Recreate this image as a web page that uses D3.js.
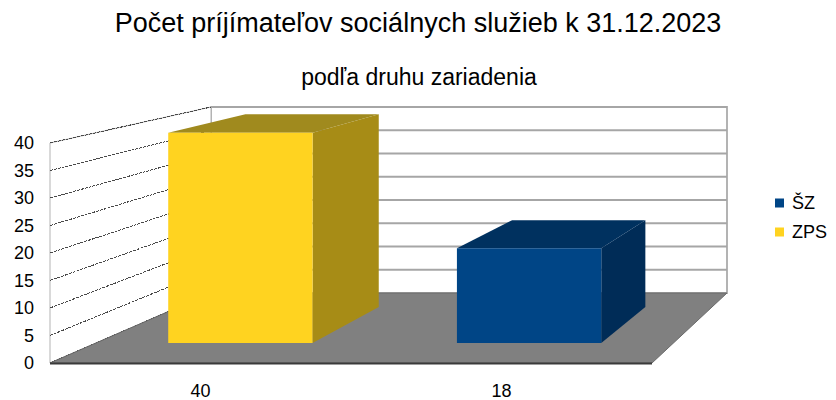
<!DOCTYPE html>
<html>
<head>
<meta charset="utf-8">
<script src="https://cdn.jsdelivr.net/npm/d3@7"></script>
<style>
  html, body { margin: 0; padding: 0; background: #fff; }
  svg { display: block; font-family: "Liberation Sans", Arial, sans-serif; }
</style>
</head>
<body>
<svg id="chart" width="836" height="400"></svg>
<script>
// ---- data ----
const title = "Počet príjímateľov sociálnych služieb k 31.12.2023";
const subtitle = "podľa druhu zariadenia";
const categories = ["40", "18"];
const values = [40, 18];
const pointSeries = ["ZPS", "ŠZ"];
const legendNames = ["ŠZ", "ZPS"];
const yTicks = [0, 5, 10, 15, 20, 25, 30, 35, 40];

// ---- styles ----
const faceColors = {
  "ZPS": { front: "#ffd320", side: "#a78c16", top: "#a08a1e" },
  "ŠZ":  { front: "#004586", side: "#002c57", top: "#00315f" }
};

const svg = d3.select("#chart");

// ---- pseudo-3D projection built from scales ----
const uFront = d3.scaleLinear().domain([0, 1]).range([50, 652]);
const uBack  = d3.scaleLinear().domain([0, 1]).range([211, 727]);
const vFront = d3.scaleLinear().domain([0, 40]).range([363, 143]);
const vBack  = d3.scaleLinear().domain([0, 40]).range([293, 107]);
function project(u, v, z) {
  return [uFront(u) * (1 - z) + uBack(u) * z, vFront(v) * (1 - z) + vBack(v) * z];
}
const band = d3.scaleBand().domain(categories).range([0, 1]).paddingInner(0.5).paddingOuter(0.25);
const zFront = 0.286, zBackBar = 0.8;
const yMax = 40;

const poly = pts => "M" + pts.map(p => p.join(",")).join("L") + "Z";

// back wall
const g = svg.append("g");
g.append("path")
  .attr("d", poly([project(0, 0, 1), project(1, 0, 1), project(1, yMax, 1), project(0, yMax, 1)]))
  .attr("fill", "#fff").attr("stroke", "#b3b3b3").attr("stroke-width", 2);
g.selectAll("line.bgrid").data(yTicks.filter(t => t > 0)).join("line")
  .attr("class", "bgrid")
  .attr("x1", d => project(0, d, 1)[0]).attr("y1", d => project(0, d, 1)[1])
  .attr("x2", d => project(1, d, 1)[0]).attr("y2", d => project(1, d, 1)[1])
  .attr("stroke", "#a6a6a6").attr("stroke-width", 2);

// left wall
g.append("path")
  .attr("d", poly([project(0, 0, 0), project(0, 0, 1), project(0, yMax, 1), project(0, yMax, 0)]))
  .attr("fill", "#fff").attr("stroke", "#b3b3b3").attr("stroke-width", 1);
g.selectAll("line.lgrid").data(yTicks).join("line")
  .attr("class", "lgrid")
  .attr("x1", d => project(0, d, 0)[0]).attr("y1", d => project(0, d, 0)[1])
  .attr("x2", d => project(0, d, 1)[0]).attr("y2", d => project(0, d, 1)[1])
  .attr("stroke", "#4a4a4a").attr("stroke-width", 1).attr("stroke-dasharray", "3,1")
  .attr("shape-rendering", "crispEdges");

// floor
g.append("path")
  .attr("d", poly([project(0, 0, 0), project(1, 0, 0), project(1, 0, 1), project(0, 0, 1)]))
  .attr("fill", "#808080").attr("stroke", "#6a6a6a").attr("stroke-width", 1);
g.append("line")
  .attr("x1", project(0, 0, 0)[0]).attr("y1", project(0, 0, 0)[1] + 0.5)
  .attr("x2", project(1, 0, 0)[0]).attr("y2", project(1, 0, 0)[1] + 0.5)
  .attr("stroke", "#3a3a3a").attr("stroke-width", 2);

// bars
const bars = categories.map((c, i) => ({ c, v: values[i], s: pointSeries[i] }));
const bg = svg.append("g");
bars.forEach(b => {
  const u0 = band(b.c), u1 = band(b.c) + band.bandwidth();
  const col = faceColors[b.s];
  bg.append("path")
    .attr("d", poly([project(u1, 0, zFront), project(u1, 0, zBackBar), project(u1, b.v, zBackBar), project(u1, b.v, zFront)]))
    .attr("fill", col.side);
  bg.append("path")
    .attr("d", poly([project(u0, b.v, zFront), project(u1, b.v, zFront), project(u1, b.v, zBackBar), project(u0, b.v, zBackBar)]))
    .attr("fill", col.top);
  bg.append("path")
    .attr("d", poly([project(u0, 0, zFront), project(u1, 0, zFront), project(u1, b.v, zFront), project(u0, b.v, zFront)]))
    .attr("fill", col.front);
});

// y axis labels
svg.append("g").selectAll("text").data(yTicks).join("text")
  .attr("x", 34).attr("y", d => project(0, d, 0)[1])
  .attr("dy", "0.35em").attr("text-anchor", "end")
  .attr("font-size", 18).attr("fill", "#000").text(d => d);

// x axis labels
svg.append("g").selectAll("text").data(categories).join("text")
  .attr("x", d => project(band(d) + band.bandwidth() / 2, 0, 0)[0])
  .attr("y", 397).attr("text-anchor", "middle")
  .attr("font-size", 18).attr("fill", "#000").text(d => d);

// titles
svg.append("text").attr("x", 418).attr("y", 32).attr("text-anchor", "middle")
  .attr("font-size", 27).attr("fill", "#000").text(title);
svg.append("text").attr("x", 419).attr("y", 85).attr("text-anchor", "middle")
  .attr("font-size", 23).attr("fill", "#000").text(subtitle);

// legend
const lg = svg.append("g").attr("transform", "translate(775,0)");
legendNames.forEach((n, i) => {
  const cy = 203 + i * 29;
  lg.append("rect").attr("x", 0).attr("y", cy - 4.5).attr("width", 9).attr("height", 9)
    .attr("fill", faceColors[n].front);
  lg.append("text").attr("x", 17).attr("y", cy).attr("dy", "0.35em")
    .attr("font-size", 18).attr("fill", "#000").text(n);
});
</script>
</body>
</html>
